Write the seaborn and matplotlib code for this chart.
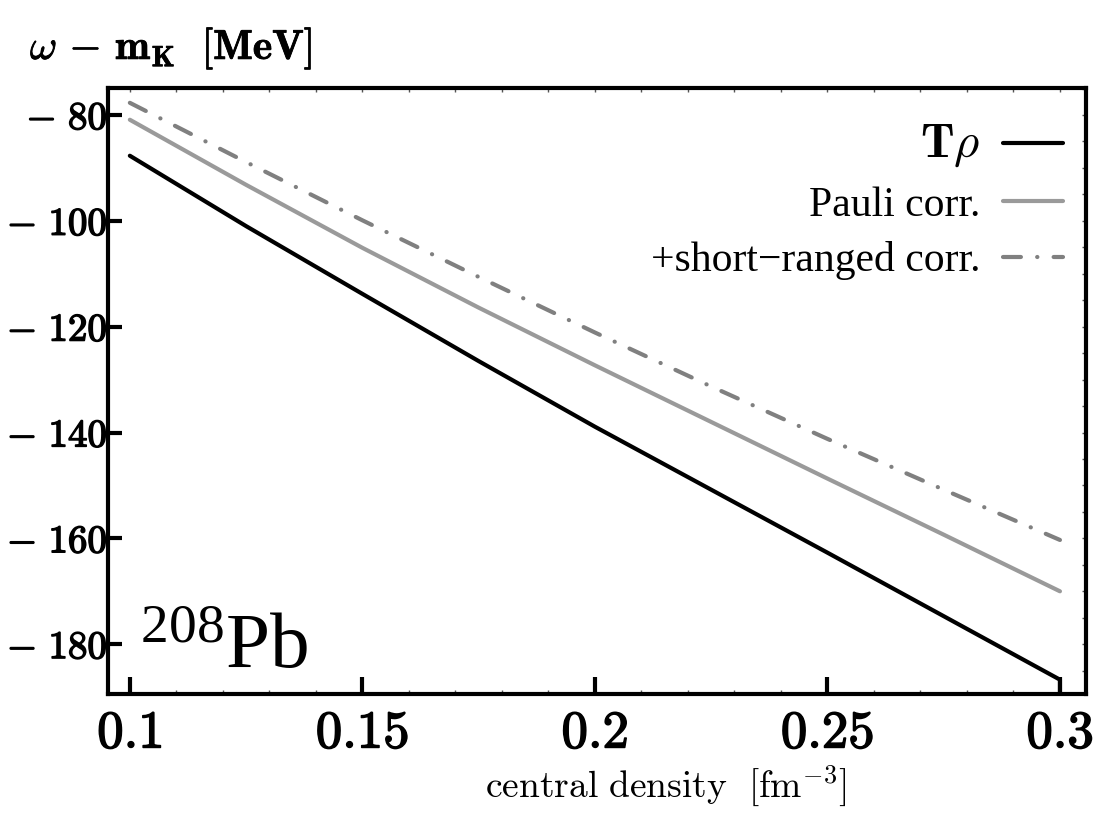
import numpy as np
import pandas as pd
import matplotlib
matplotlib.use("Agg")
import matplotlib.pyplot as plt
import matplotlib.patheffects as pe
import seaborn as sns
from matplotlib.ticker import MultipleLocator

# ---- data ----
density = [0.1, 0.125, 0.15, 0.175, 0.2, 0.225, 0.25, 0.275, 0.3]
t_rho = [-87.7, -101.0, -113.8, -126.5, -138.9, -150.8, -162.7, -174.7, -186.7]
pauli = [-80.9, -93.2, -105.1, -116.4, -127.3, -138.0, -148.7, -159.3, -170.0]
short_ranged = [-77.7, -88.9, -99.9, -110.6, -121.1, -131.3, -141.2, -150.8, -160.3]
# the T-rho curve drops vertically at the last density in the picture
t_rho_end_x = [0.3]
t_rho_end_y = [-195.0]

labels = [r'$\mathbf{T}\rho$', 'Pauli corr.', '+short\u2212ranged corr.']

x_ticks = [0.1, 0.15, 0.2, 0.25, 0.3]
x_tick_labels = [r'$\mathbf{0.1}$', r'$\mathbf{0.15}$', r'$\mathbf{0.2}$',
                 r'$\mathbf{0.25}$', r'$\mathbf{0.3}$']
y_ticks = [-80, -100, -120, -140, -160, -180]
y_tick_labels = [r'$-\ \mathbf{80}$', r'$-\ \mathbf{100}$', r'$-\ \mathbf{120}$',
                 r'$-\ \mathbf{140}$', r'$-\ \mathbf{160}$', r'$-\ \mathbf{180}$']

sns.set_style("white")
plt.rcParams['mathtext.fontset'] = 'cm'
plt.rcParams['mathtext.rm'] = 'Liberation Serif'
plt.rcParams['mathtext.it'] = 'Liberation Serif:italic'
plt.rcParams['mathtext.bf'] = 'Liberation Serif:bold'
plt.rcParams['font.family'] = ['Liberation Serif', 'DejaVu Serif']
plt.rcParams['text.color'] = 'black'
plt.rcParams['xtick.color'] = 'black'
plt.rcParams['ytick.color'] = 'black'

fig = plt.figure(figsize=(11.11, 8.34), dpi=100)
ax = fig.add_axes([0.0972, 0.1679, 0.9775 - 0.0972, 0.8945 - 0.1679])

df_t = pd.DataFrame({"x": density + t_rho_end_x, "y": t_rho + t_rho_end_y})
df_p = pd.DataFrame({"x": density, "y": pauli})
df_s = pd.DataFrame({"x": density, "y": short_ranged})

sns.lineplot(data=df_t, x="x", y="y", ax=ax, color="black", lw=3.0,
             estimator=None, sort=False, label=labels[0])
sns.lineplot(data=df_p, x="x", y="y", ax=ax, color="#9a9a9a", lw=3.0,
             estimator=None, sort=False, label=labels[1])
sns.lineplot(data=df_s, x="x", y="y", ax=ax, color="#808080", lw=3.0,
             estimator=None, sort=False, label=labels[2],
             linestyle=(0, (4.3, 3.9, 0.05, 3.9)), dash_capstyle="round")

ax.set_xlim(0.0953, 0.3056)
ax.set_ylim(-189.4, -74.9)

bold = [pe.withStroke(linewidth=1.1, foreground='black')]
ax.set_xticks(x_ticks, x_tick_labels, fontsize=38)
ax.set_yticks(y_ticks, y_tick_labels, fontsize=28)
for t in ax.get_xticklabels() + ax.get_yticklabels():
    t.set_path_effects(bold)
ax.xaxis.set_minor_locator(MultipleLocator(0.01))
ax.tick_params(axis='x', which='major', direction='in', length=12, width=3,
               pad=12, color='black', top=False, bottom=True)
ax.tick_params(axis='y', which='major', direction='in', length=10, width=3,
               pad=0.5, color='black', left=True, right=False)
ax.tick_params(axis='x', which='minor', direction='in', length=3, width=1,
               color='#555555', bottom=True, top=False)
ax.set_xlabel("")
ax.set_ylabel("")

for s in ax.spines.values():
    s.set_linewidth(3.0)
    s.set_color('black')

top = ax.secondary_xaxis('top')
top.set_xticks(np.round(np.arange(0.10, 0.301, 0.01), 3))
top.tick_params(direction='in', length=3, width=1, color='#555555', labeltop=False)
top.spines['top'].set_visible(False)
right = ax.secondary_yaxis('right')
right.set_yticks(np.arange(-185, -74, 5))
right.tick_params(direction='in', length=3, width=1, color='#555555', labelright=False)
right.spines['right'].set_visible(False)

leg = ax.legend(loc='upper right', bbox_to_anchor=(1.0, 0.980),
                prop={'family': 'Liberation Serif', 'size': 30},
                frameon=False, markerfirst=False, borderpad=0,
                handlelength=1.44, handletextpad=0.55, labelspacing=0.40,
                borderaxespad=0.55)
leg.get_texts()[0].set_fontsize(35)

ax.text(0.0327, 0.043, r'$^{208}\mathrm{Pb}$', transform=ax.transAxes,
        fontsize=57, ha='left', va='baseline', math_fontfamily='custom')

ylab = fig.text(0.027, 0.942, r'$\omega\,-\,\mathbf{m_K}\ \ [\mathbf{MeV}]$',
                fontsize=30, ha='left', va='center', math_fontfamily='cm')
ylab.set_path_effects([pe.withStroke(linewidth=0.6, foreground='black')])
fig.text(0.599, 0.044, r'$\mathrm{central\ density}\ \ [\mathrm{fm}^{-3}]$',
         fontsize=27, ha='center', va='baseline', math_fontfamily='cm')

fig.savefig("out.png", dpi=100)
